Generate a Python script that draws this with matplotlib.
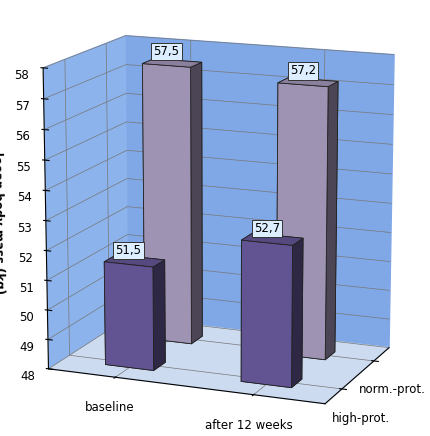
import matplotlib.pyplot as plt
import numpy as np
from mpl_toolkits.mplot3d import Axes3D  # noqa

categories = ['baseline', 'after 12 weeks']
series = ['high-prot.', 'norm.-prot.']
high_prot = [51.5, 52.7]
norm_prot = [57.5, 57.2]
zmin, zmax = 48, 58

fig = plt.figure(figsize=(4.3, 4.36), dpi=100)
ax = fig.add_axes([-0.04, -0.02, 1.08, 1.04], projection='3d')
ax.view_init(elev=14, azim=-68)
ax.set_box_aspect((1.2, 0.8, 1.25))

colors = ['#6f5fa6', '#b4a6cc']
w, d = 0.36, 0.3
for j, (vals, c) in enumerate(zip([high_prot, norm_prot], colors)):
    for i, v in enumerate(vals):
        ax.bar3d(i + 0.5 - w / 2, j + 0.5 - d / 2, zmin, w, d, v - zmin,
                 color=c, edgecolor='#222222', linewidth=0.6, shade=True)
        ax.text(i + 0.5, j + 0.5 - d / 2, v + 0.25,
                f'{v:.1f}'.replace('.', ','), ha='center', va='bottom',
                fontsize=8.5, zorder=10,
                bbox=dict(boxstyle='square,pad=0.2', fc='#dceeff', ec='#333333', lw=0.7))

ax.set_xlim(0, 2)
ax.set_ylim(0, 2)
ax.set_zlim(zmin, zmax)
ax.zaxis._axinfo['juggled'] = (1, 2, 0)
ax.set_xticks([0.5, 1.5])
ax.set_xticklabels(categories, fontsize=8.5)
ax.set_yticks([0.5, 1.5])
ax.set_yticklabels(series, fontsize=8.5)
ax.set_zticks(np.arange(zmin, zmax + 1, 1))
ax.tick_params(axis='z', labelsize=8.5, pad=2)
ax.set_zlabel('leean body mass (kg)', fontsize=8.5, fontweight='bold', labelpad=2)
ax.xaxis.set_pane_color((0.55, 0.70, 0.92, 1.0))
ax.yaxis.set_pane_color((0.50, 0.66, 0.90, 1.0))
ax.zaxis.set_pane_color((0.80, 0.86, 0.94, 1.0))
for a in (ax.xaxis, ax.yaxis, ax.zaxis):
    a._axinfo['grid']['color'] = '#777777'
    a._axinfo['grid']['linewidth'] = 0.5

fig.savefig('out.png', dpi=100)
